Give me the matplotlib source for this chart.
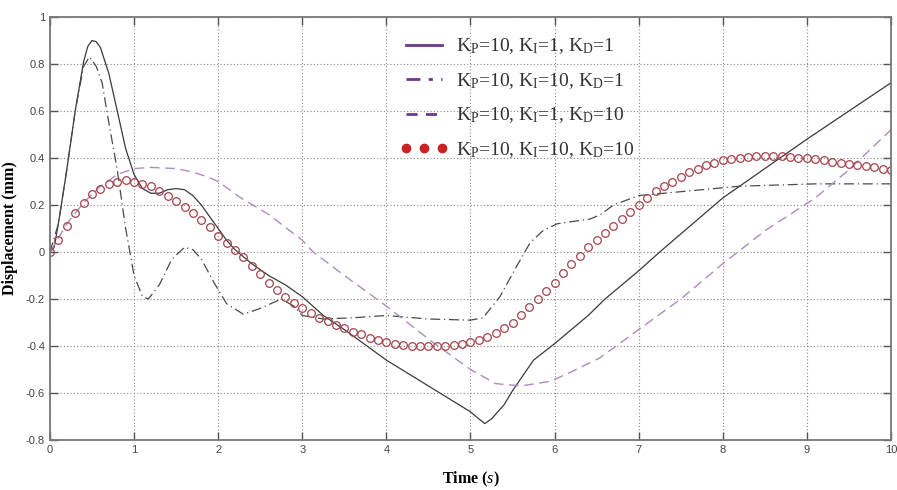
import numpy as np
import matplotlib
matplotlib.use('Agg')
from matplotlib import pyplot as plt
from matplotlib.lines import Line2D

# K_P=10, K_I=1, K_D=1 (solid)
t_solid = [0, 0.05, 0.1, 0.2, 0.3, 0.4, 0.45, 0.5, 0.55, 0.6, 0.7, 0.8, 0.9, 1.0, 1.1,
           1.2, 1.3, 1.4, 1.5, 1.6, 1.7, 1.8, 1.9, 2.0, 2.1, 2.2, 2.4, 2.6, 2.8, 3.0, 3.25,
           3.5, 4.0, 4.5, 5.0, 5.1, 5.17, 5.25, 5.4, 5.5, 5.75, 6.0, 6.2, 6.4, 6.6, 6.8,
           7.0, 7.25, 8.0, 9.0, 10.0]
y_solid = [0, 0.02, 0.12, 0.35, 0.6, 0.81, 0.875, 0.9, 0.895, 0.87, 0.76, 0.6, 0.44,
           0.33, 0.27, 0.25, 0.25, 0.265, 0.27, 0.265, 0.24, 0.2, 0.15, 0.1, 0.05, 0.01,
           -0.05, -0.1, -0.14, -0.19, -0.27, -0.33, -0.46, -0.57, -0.68, -0.71, -0.73,
           -0.71, -0.65, -0.59, -0.46, -0.39, -0.33, -0.27, -0.2, -0.14, -0.08, 0.0, 0.23,
           0.48, 0.72]

# K_P=10, K_I=10, K_D=1 (dash-dot)
t_dashdot = [0, 0.1, 0.2, 0.3, 0.4, 0.47, 0.55, 0.62, 0.7, 0.8, 0.9, 1.0, 1.1, 1.17, 1.3,
             1.45, 1.6, 1.7, 1.8, 1.95, 2.1, 2.3, 2.5, 2.75, 2.9, 3.0, 3.25, 3.6, 4.0, 4.5,
             5.0, 5.15, 5.35, 5.55, 5.71, 5.86, 6.03, 6.22, 6.42, 6.55, 6.7, 7.0, 7.3, 8.2,
             9.1, 10.0]
y_dashdot = [0, 0.12, 0.35, 0.6, 0.79, 0.83, 0.79, 0.72, 0.55, 0.35, 0.1, -0.1, -0.19,
             -0.2, -0.14, -0.03, 0.02, 0.01, -0.03, -0.13, -0.22, -0.265, -0.24, -0.2,
             -0.23, -0.27, -0.285, -0.28, -0.27, -0.285, -0.29, -0.28, -0.19, -0.06, 0.04,
             0.09, 0.12, 0.13, 0.14, 0.16, 0.2, 0.24, 0.25, 0.28, 0.29, 0.29]

# K_P=10, K_I=1, K_D=10 (dashed)
t_dashed = [0, 0.2, 0.4, 0.6, 0.8, 1.0, 1.2, 1.5, 1.7, 1.87, 2.0, 2.25, 2.6, 3.0, 3.13,
            3.5, 4.0, 4.5, 5.0, 5.3, 5.6, 5.95, 6.2, 6.54, 7.0, 7.5, 8.0, 8.25, 8.5, 9.1,
            9.5, 10.0]
y_dashed = [0, 0.12, 0.21, 0.28, 0.33, 0.355, 0.36, 0.355, 0.34, 0.32, 0.3, 0.235, 0.16,
            0.05, 0.0, -0.1, -0.23, -0.37, -0.5, -0.56, -0.57, -0.55, -0.51, -0.45, -0.33,
            -0.2, -0.05, 0.02, 0.09, 0.23, 0.35, 0.52]

# K_P=10, K_I=10, K_D=10 (circles), sampled every 0.1 s
t_circles = np.arange(0, 10.01, 0.1)
y_circles = [0.00, 0.05, 0.11, 0.165, 0.21, 0.245, 0.27, 0.29, 0.30, 0.305,
             0.30, 0.29, 0.28, 0.26, 0.24, 0.215, 0.19, 0.165, 0.135, 0.105,
             0.07, 0.04, 0.01, -0.02, -0.06, -0.095, -0.13, -0.16, -0.19, -0.215,
             -0.24, -0.26, -0.28, -0.295, -0.31, -0.325, -0.34, -0.35, -0.365, -0.375,
             -0.385, -0.39, -0.395, -0.4, -0.4, -0.4, -0.4, -0.4, -0.395, -0.39,
             -0.385, -0.375, -0.36, -0.345, -0.325, -0.3, -0.27, -0.235, -0.2, -0.165,
             -0.13, -0.09, -0.05, -0.015, 0.02, 0.05, 0.08, 0.11, 0.14, 0.17,
             0.2, 0.23, 0.26, 0.28, 0.30, 0.32, 0.34, 0.355, 0.37, 0.38,
             0.39, 0.395, 0.40, 0.405, 0.41, 0.41, 0.41, 0.41, 0.405, 0.40,
             0.40, 0.395, 0.39, 0.385, 0.38, 0.375, 0.37, 0.365, 0.36, 0.355,
             0.35]

labels = [r'K$_\mathrm{P}$=10, K$_\mathrm{I}$=1, K$_\mathrm{D}$=1',
          r'K$_\mathrm{P}$=10, K$_\mathrm{I}$=10, K$_\mathrm{D}$=1',
          r'K$_\mathrm{P}$=10, K$_\mathrm{I}$=1, K$_\mathrm{D}$=10',
          r'K$_\mathrm{P}$=10, K$_\mathrm{I}$=10, K$_\mathrm{D}$=10']
x_ticks = list(range(0, 11))
y_ticks = [-0.8, -0.6, -0.4, -0.2, 0, 0.2, 0.4, 0.6, 0.8, 1]
y_ticklabels = ['-0.8', '-0.6', '-0.4', '-0.2', '0', '0.2', '0.4', '0.6', '0.8', '1']

plt.rcParams['mathtext.fontset'] = 'custom'
plt.rcParams['mathtext.rm'] = 'Liberation Serif'
plt.rcParams['mathtext.it'] = 'Liberation Serif:italic'
plt.rcParams['mathtext.bf'] = 'Liberation Serif:bold'

fig = plt.figure(figsize=(8.97, 4.9), dpi=100)
ax = fig.add_axes([0.0557, 0.102, 0.9376, 0.8633])

ax.plot(t_solid, y_solid, color='#3a3a3a', lw=0.9)
ax.plot(t_dashdot, y_dashdot, color='#4a4a4a', lw=0.9, ls=(0, (8, 3, 1, 3)))
ax.plot(t_dashed, y_dashed, color='#ad8cbd', lw=1.0, ls=(0, (7, 4)))
ax.plot(t_circles, y_circles, ls='none', marker='o', ms=5.5, mfc='none',
        mec='#a5424c', mew=0.9)

ax.set_xlim(0, 10)
ax.set_ylim(-0.8, 1)
ax.set_xticks(x_ticks)
ax.set_yticks(y_ticks)
ax.set_yticklabels(y_ticklabels)
ax.grid(True, ls=(0, (1, 2)), color='#888888', lw=0.8)
ax.tick_params(direction='in', length=6, width=1, colors='#555555', labelsize=8,
               top=True, right=True, labelcolor='#444444')
for lbl in ax.get_xticklabels() + ax.get_yticklabels():
    lbl.set_family('Liberation Sans')
for sp in ax.spines.values():
    sp.set_color('#777777')
    sp.set_linewidth(1.3)

ax.set_xlabel(r'Time ($\mathbf{\mathit{s}}$)', family='Liberation Serif', fontweight='bold',
              fontsize=11.5, labelpad=11)
ax.set_ylabel('Displacement (mm)', family='Liberation Serif', fontweight='bold',
              fontsize=11.5, labelpad=6)

handles = [Line2D([], [], color='#6b3a8c', lw=2),
           Line2D([], [], color='#6b3a8c', lw=2, ls=(0, (5, 3, 1.5, 3))),
           Line2D([], [], color='#6b3a8c', lw=2, ls=(0, (4, 3))),
           Line2D([], [], color='#cc2222', lw=0, marker='o', ms=6)]
leg = ax.legend(handles, labels, loc='upper left', bbox_to_anchor=(0.395, 0.995),
                frameon=False, handlelength=2.5, handletextpad=0.4, labelspacing=0.75,
                numpoints=3, prop={'family': 'Liberation Serif', 'size': 14})
for txt in leg.get_texts():
    txt.set_color('#333333')

fig.savefig('out.png', dpi=100)
